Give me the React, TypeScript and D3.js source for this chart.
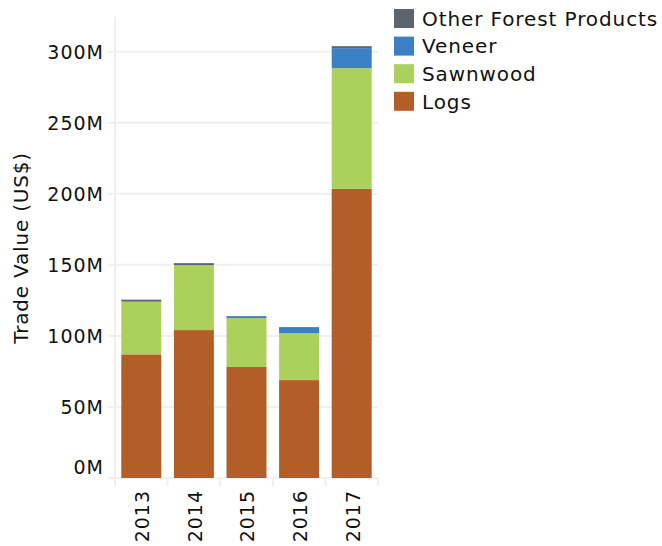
import React from "react";
import * as d3 from "d3";

const years = ["2013", "2014", "2015", "2016", "2017"];
const seriesNames = ["Logs", "Sawnwood", "Veneer", "Other Forest Products"];
const logs = [87.0, 104.1, 78.1, 68.9, 203.5];
const sawnwood = [37.1, 45.7, 34.4, 33.1, 84.9];
const veneer = [0, 0, 1.4, 4.2, 14.1];
const other = [1.4, 1.4, 0, 0, 1.4];
const colors = ["#b35e28", "#abd05b", "#3b80c4", "#5b6570"];
const yTicks = [0, 50, 100, 150, 200, 250, 300];
const legendOrder = ["Other Forest Products", "Veneer", "Sawnwood", "Logs"];

const FONT = "'DejaVu Sans', sans-serif";

export default function App() {
  const W = 662, H = 546;
  const left = 115, right = 378, top = 51.7, bottom = 478;
  const x = d3.scaleBand().domain(years).range([left, right]).paddingInner(0.24).paddingOuter(0.12);
  const y = d3.scaleLinear().domain([0, 300]).range([bottom, top]);
  const data = years.map((yr, i) => ({ year: yr, Logs: logs[i], Sawnwood: sawnwood[i], Veneer: veneer[i], "Other Forest Products": other[i] }));
  const stack = d3.stack<any>().keys(seriesNames)(data);
  const colorOf = d3.scaleOrdinal<string, string>().domain(seriesNames).range(colors);
  return (
    <svg width={W} height={H} style={{ position: "absolute", left: 0, top: 0 }} fontFamily={FONT}>
      <rect width={W} height={H} fill="#fff" />
      {yTicks.map((t) => (
        <line key={t} x1={108} x2={right} y1={y(t)} y2={y(t)} stroke="#efefef" strokeWidth={2} />
      ))}
      <line x1={left} x2={left} y1={17} y2={486} stroke="#efefef" strokeWidth={2} />
      {years.map((yr, i) => {
        const bx = left + (i + 1) * ((right - left) / years.length);
        return <line key={yr} x1={bx} x2={bx} y1={bottom} y2={486} stroke="#efefef" strokeWidth={2} />;
      })}
      {stack.map((s) => (
        <g key={s.key} fill={colorOf(s.key)}>
          {s.map((d, i) => (
            d[1] - d[0] > 0 ? (
              <rect key={i} x={x(years[i])} width={x.bandwidth()} y={y(d[1])} height={y(d[0]) - y(d[1])} />
            ) : null
          ))}
        </g>
      ))}
      {yTicks.map((t) => (
        <text key={t} x={104} y={y(t) - (t === 0 ? 11 : 0)} dy="0.36em" textAnchor="end" fontSize={19} letterSpacing={1} fill="#111">{t}M</text>
      ))}
      <text transform={`translate(28,248) rotate(-90)`} textAnchor="middle" fontSize={20} letterSpacing={0.8} fill="#111">Trade Value (US$)</text>
      {years.map((yr) => (
        <text key={yr} transform={`translate(${(x(yr) as number) + x.bandwidth() / 2 + 1},490) rotate(-90)`} textAnchor="end" dy="0.36em" fontSize={19} letterSpacing={1} fill="#111">{yr}</text>
      ))}
      {legendOrder.map((name, i) => (
        <g key={name} transform={`translate(394,${9 + i * 27.6})`}>
          <rect width={20} height={19} fill={colorOf(name)} />
          <text x={28} y={9.5} dy="0.36em" fontSize={20} letterSpacing={0.9} fill="#111">{name}</text>
        </g>
      ))}
    </svg>
  );
}
